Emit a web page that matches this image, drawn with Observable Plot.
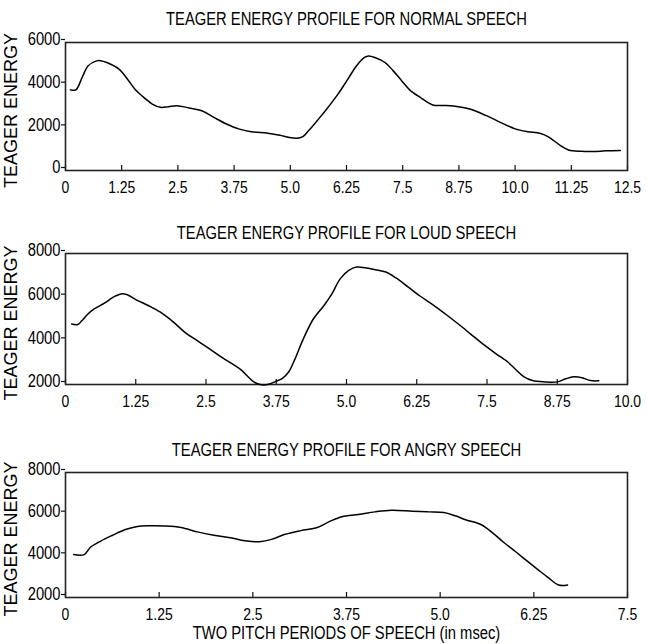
<!DOCTYPE html>
<html>
<head>
<meta charset="utf-8">
<script src="https://cdn.jsdelivr.net/npm/d3@7"></script>
<script src="https://cdn.jsdelivr.net/npm/@observablehq/plot@0.6"></script>
<style>
  html, body { margin: 0; padding: 0; background: #fff; }
  #chart { position: relative; width: 647px; height: 644px; background: #fff; overflow: hidden; }
  .panel { position: absolute; left: 0; width: 647px; }
  .panel svg { display: block; }
</style>
</head>
<body>
<div id="chart"></div>
<script>
// ---- Data ----
const titles = [
  "TEAGER ENERGY PROFILE FOR NORMAL SPEECH",
  "TEAGER ENERGY PROFILE FOR LOUD SPEECH",
  "TEAGER ENERGY PROFILE FOR ANGRY SPEECH"
];
const yLabel = "TEAGER ENERGY";
const xLabel = "TWO PITCH PERIODS OF SPEECH (in msec)";

const normalTickLabels = ["0","1.25","2.5","3.75","5.0","6.25","7.5","8.75","10.0","11.25","12.5"];
const loudTickLabels   = ["0","1.25","2.5","3.75","5.0","6.25","7.5","8.75","10.0"];
const angryTickLabels  = ["0","1.25","2.5","3.75","5.0","6.25","7.5"];

const normalYTicks = [0, 2000, 4000, 6000];
const loudYTicks   = [2000, 4000, 6000, 8000];
const angryYTicks  = [2000, 4000, 6000, 8000];

const normalTime = [0.11,0.23,0.37,0.5,0.69,0.78,0.92,1.19,1.38,1.56,1.74,1.93,2.11,2.29,2.48,2.75,3.03,3.3,3.58,3.85,4.13,4.5,4.77,4.95,5.14,5.28,5.41,5.6,5.78,6.06,6.28,6.47,6.65,6.74,6.88,7.11,7.29,7.48,7.66,7.89,8.17,8.44,8.62,8.99,9.36,9.72,10.0,10.28,10.55,10.73,11.01,11.19,11.47,11.74,12.02,12.34];
const normalEnergy = [3780,3780,4360,4900,5140,5150,5060,4750,4280,3770,3430,3115,2960,2990,3040,2930,2800,2490,2180,1950,1820,1745,1650,1560,1510,1590,1870,2340,2800,3580,4280,4900,5300,5370,5300,5060,4670,4200,3770,3430,3070,3050,3020,2880,2570,2210,1950,1820,1745,1590,1170,965,900,890,920,935];

const loudTime = [0.11,0.22,0.29,0.4,0.51,0.7,0.85,0.99,1.1,1.25,1.47,1.69,1.91,2.13,2.35,2.57,2.79,3.01,3.13,3.24,3.35,3.46,3.6,3.75,3.86,3.97,4.08,4.23,4.41,4.6,4.74,4.89,5.04,5.18,5.33,5.51,5.7,5.88,6.1,6.32,6.54,6.76,6.99,7.21,7.43,7.65,7.87,8.01,8.16,8.31,8.53,8.75,8.9,9.04,9.19,9.34,9.49];
const loudEnergy = [4770,4750,4920,5230,5460,5740,6000,6150,6110,5890,5620,5310,4880,4380,4000,3620,3230,2880,2660,2380,2120,2000,2000,2150,2280,2570,3150,4080,5000,5620,6150,6850,7230,7380,7350,7260,7150,6880,6460,6030,5650,5230,4770,4310,3850,3430,3030,2690,2350,2180,2120,2120,2260,2350,2310,2180,2170];

const angryTime = [0.11,0.25,0.33,0.47,0.63,0.8,0.96,1.13,1.32,1.54,1.76,1.98,2.2,2.42,2.59,2.75,2.92,3.14,3.36,3.52,3.69,3.91,4.13,4.35,4.63,4.85,5.05,5.2,5.35,5.55,5.7,5.85,6.0,6.15,6.3,6.45,6.58,6.7];
const angryEnergy = [4060,4060,4400,4710,4990,5260,5410,5440,5430,5360,5150,4990,4870,4710,4680,4790,5020,5210,5360,5640,5880,5980,6110,6190,6140,6110,6080,5920,5720,5490,5100,4640,4220,3780,3350,2930,2600,2600];

// ---- Drawing ----
const font = '"Liberation Sans", Arial, sans-serif';
const narrowFactor = 0.82; // reference uses a narrow sans-serif face

function panel({time, energy, tickLabels, yTicks, yDomain, title, top, height, marginTop, marginBottom, titleDy, showXLabel}) {
  const data = time.map((t, i) => ({t, e: energy[i]}));
  const xTicks = tickLabels.map(Number);
  const xMax = xTicks[xTicks.length - 1];
  const marks = [
    Plot.axisX({ticks: xTicks, tickFormat: (d, i) => tickLabels[i], tickSize: -5, tickPadding: 15,
      fontSize: 17, fontFamily: font, fill: "#000", stroke: "#111", strokeWidth: 1.2}),
    Plot.axisY({ticks: yTicks, tickFormat: d => String(d), tickSize: 4, tickPadding: 1, dy: -3,
      fontSize: 18, fontFamily: font, fill: "#000", stroke: "#111", strokeWidth: 1.2}),
    Plot.frame({stroke: "#222", strokeWidth: 1.6}),
    Plot.line(data, {x: "t", y: "e", stroke: "#000", strokeWidth: 1.5, curve: "catmull-rom"}),
    Plot.text([title], {frameAnchor: "top", lineAnchor: "middle", textAnchor: "middle", dy: titleDy,
      fontSize: 18, fontFamily: font, fill: "#000"}),
    Plot.text([yLabel], {frameAnchor: "left", textAnchor: "middle", lineAnchor: "middle", dx: -54, dy: 4, rotate: -90,
      fontSize: 18, fontFamily: font, fill: "#000"})
  ];
  if (showXLabel) {
    marks.push(Plot.text([xLabel], {frameAnchor: "bottom", lineAnchor: "middle", textAnchor: "middle", dy: 36,
      fontSize: 18, fontFamily: font, fill: "#000"}));
  }
  const svg = Plot.plot({
    width: 647, height, marginLeft: 65, marginRight: 20, marginTop, marginBottom,
    style: {background: "#fff", color: "#000", fontFamily: font, fontSize: "18px", overflow: "visible"},
    x: {domain: [0, xMax], label: null},
    y: {domain: yDomain, label: null},
    marks
  });
  const div = document.createElement("div");
  div.className = "panel";
  div.style.top = top + "px";
  div.appendChild(svg);
  document.getElementById("chart").appendChild(div);
  // narrow the glyphs of every text except the vertical axis label
  svg.querySelectorAll("text").forEach(t => {
    if (t.textContent === yLabel) return;
    const L = t.getComputedTextLength();
    if (L > 0) {
      t.setAttribute("textLength", (L * narrowFactor).toFixed(2));
      t.setAttribute("lengthAdjust", "spacingAndGlyphs");
    }
  });
}

panel({time: normalTime, energy: normalEnergy, tickLabels: normalTickLabels, yTicks: normalYTicks,
  yDomain: [0, 6000], title: titles[0], top: 0, height: 215, marginTop: 42, marginBottom: 45, titleDy: -23});
panel({time: loudTime, energy: loudEnergy, tickLabels: loudTickLabels, yTicks: loudYTicks,
  yDomain: [2000, 8000], title: titles[1], top: 215, height: 210, marginTop: 38, marginBottom: 41, titleDy: -20});
panel({time: angryTime, energy: angryEnergy, tickLabels: angryTickLabels, yTicks: angryYTicks,
  yDomain: [2000, 8000], title: titles[2], top: 425, height: 219, marginTop: 47, marginBottom: 47, titleDy: -22, showXLabel: true});
</script>
</body>
</html>
